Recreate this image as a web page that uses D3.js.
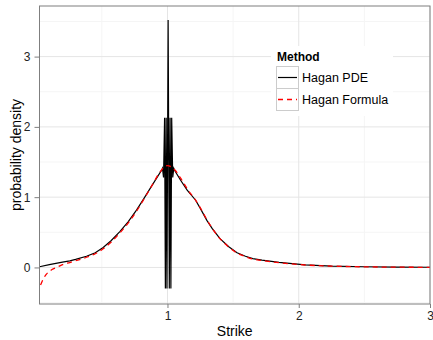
<!DOCTYPE html>
<html>
<head>
<meta charset="utf-8">
<script src="https://cdn.jsdelivr.net/npm/d3@7"></script>
<style>
  body { margin: 0; background: #fff; }
  svg { font-family: "Liberation Sans", Arial, sans-serif; }
</style>
</head>
<body>
<div id="chart"></div>
<script>
// NOTE: values
const pdeStrike = [0.025, 0.1, 0.2, 0.256, 0.3, 0.383, 0.45, 0.51, 0.57, 0.637, 0.7, 0.764, 0.82, 0.88, 0.947,
  0.955, 0.962, 0.970, 0.978, 0.984, 0.990, 0.996, 1.005, 1.014, 1.020, 1.026, 1.032, 1.040, 1.048, 1.055,
  1.1, 1.15, 1.213, 1.25, 1.3, 1.34, 1.4, 1.467, 1.53, 1.594, 1.65, 1.72, 1.85, 2.05, 2.25, 2.5, 2.75, 3.0];
const pdeDensity = [0.01, 0.04, 0.075, 0.094, 0.115, 0.16, 0.21, 0.285, 0.38, 0.51, 0.65, 0.816, 0.98, 1.16, 1.36,
  1.38, 1.41, 1.28, 2.13, -0.30, 2.13, -0.30, 3.52, -0.30, 2.13, -0.30, 2.13, 1.28, 1.41, 1.38,
  1.24, 1.10, 0.96, 0.84, 0.67, 0.555, 0.41, 0.294, 0.21, 0.16, 0.125, 0.104, 0.071, 0.037, 0.02, 0.01, 0.005, 0.003];
const formulaStrike = [0.033, 0.055, 0.078, 0.12, 0.155, 0.2, 0.256, 0.3, 0.383, 0.45, 0.51, 0.57, 0.637, 0.7, 0.764,
  0.82, 0.88, 0.94, 0.97, 1.0, 1.03, 1.06, 1.1, 1.15, 1.213, 1.25, 1.3, 1.34, 1.4, 1.467, 1.53, 1.594, 1.65, 1.72,
  1.85, 2.05, 2.25, 2.5, 2.75, 3.0];
const formulaDensity = [-0.25, -0.16, -0.095, -0.03, 0.0, 0.04, 0.07, 0.095, 0.145, 0.195, 0.265, 0.36, 0.49, 0.63, 0.8,
  0.97, 1.16, 1.35, 1.42, 1.45, 1.43, 1.38, 1.27, 1.12, 0.96, 0.85, 0.68, 0.56, 0.41, 0.29, 0.205, 0.155, 0.12, 0.1,
  0.068, 0.035, 0.019, 0.009, 0.004, 0.002];
const xTicks = [1, 2, 3];
const xMinor = [0.5, 1.5, 2.5];
const yTicks = [0, 1, 2, 3];
const yMinor = [-0.5, 0.5, 1.5, 2.5, 3.5];
const methods = ['Hagan PDE', 'Hagan Formula'];

// NOTE: layout
const width = 433, height = 340;
const panel = { left: 39.5, right: 430, top: 6, bottom: 304 };

const x = d3.scaleLinear().domain([0.025, 3.0]).range([panel.left, panel.right]);
const y = d3.scaleLinear().domain([-0.52, 3.72]).range([panel.bottom, panel.top]);

const svg = d3.select('#chart').append('svg')
  .attr('width', width)
  .attr('height', height);

// panel background + grid
svg.append('rect')
  .attr('x', panel.left).attr('y', panel.top)
  .attr('width', panel.right - panel.left).attr('height', panel.bottom - panel.top)
  .attr('fill', '#fff');

const grid = svg.append('g');
grid.selectAll('.xminor').data(xMinor).join('line')
  .attr('x1', d => x(d)).attr('x2', d => x(d))
  .attr('y1', panel.top).attr('y2', panel.bottom)
  .attr('stroke', '#f5f5f5').attr('stroke-width', 1);
grid.selectAll('.yminor').data(yMinor).join('line')
  .attr('y1', d => y(d)).attr('y2', d => y(d))
  .attr('x1', panel.left).attr('x2', panel.right)
  .attr('stroke', '#f5f5f5').attr('stroke-width', 1);
grid.selectAll('.xmajor').data(xTicks).join('line')
  .attr('x1', d => x(d)).attr('x2', d => x(d))
  .attr('y1', panel.top).attr('y2', panel.bottom)
  .attr('stroke', '#e5e5e5').attr('stroke-width', 1);
grid.selectAll('.ymajor').data(yTicks).join('line')
  .attr('y1', d => y(d)).attr('y2', d => y(d))
  .attr('x1', panel.left).attr('x2', panel.right)
  .attr('stroke', '#e5e5e5').attr('stroke-width', 1);

// curves
const line = d3.line().x(d => x(d[0])).y(d => y(d[1]));
const pde = pdeStrike.map((s, i) => [s, pdeDensity[i]]);
const formula = formulaStrike.map((s, i) => [s, formulaDensity[i]]);

svg.append('path')
  .datum(pde)
  .attr('d', line)
  .attr('fill', 'none')
  .attr('stroke', '#000')
  .attr('stroke-width', 1.2)
  .attr('stroke-linejoin', 'miter');

svg.append('path')
  .datum(formula)
  .attr('d', line.curve(d3.curveMonotoneX))
  .attr('fill', 'none')
  .attr('stroke', '#ff0000')
  .attr('stroke-width', 1.3)
  .attr('stroke-dasharray', '5,4');

// panel border
svg.append('rect')
  .attr('x', panel.left).attr('y', panel.top)
  .attr('width', panel.right - panel.left).attr('height', panel.bottom - panel.top)
  .attr('fill', 'none').attr('stroke', '#7f7f7f').attr('stroke-width', 1);

// axes
const xAxis = svg.append('g')
  .attr('transform', `translate(0,${panel.bottom})`)
  .call(d3.axisBottom(x).tickValues(xTicks).tickSize(4).tickPadding(3).tickFormat(d3.format('d')));
xAxis.select('.domain').remove();
xAxis.selectAll('line').attr('stroke', '#7f7f7f');
xAxis.selectAll('text').attr('font-size', 12).attr('fill', '#222')
  .attr('font-family', '"Liberation Sans", Arial, sans-serif');

const yAxis = svg.append('g')
  .attr('transform', `translate(${panel.left},0)`)
  .call(d3.axisLeft(y).tickValues(yTicks).tickSize(5).tickPadding(4).tickFormat(d3.format('d')));
yAxis.select('.domain').remove();
yAxis.selectAll('line').attr('stroke', '#7f7f7f');
yAxis.selectAll('text').attr('font-size', 12).attr('fill', '#222')
  .attr('font-family', '"Liberation Sans", Arial, sans-serif');

svg.append('text')
  .attr('x', (panel.left + panel.right) / 2)
  .attr('y', 336)
  .attr('text-anchor', 'middle')
  .attr('font-size', 14)
  .text('Strike');

svg.append('text')
  .attr('transform', `translate(21,${(panel.top + panel.bottom) / 2}) rotate(-90)`)
  .attr('text-anchor', 'middle')
  .attr('font-size', 14)
  .text('probability density');

// legend
const legend = svg.append('g');
legend.append('rect')
  .attr('x', 271).attr('y', 46).attr('width', 122).attr('height', 70)
  .attr('fill', '#fff');
legend.append('text')
  .attr('x', 277).attr('y', 61)
  .attr('font-size', 12).attr('font-weight', 'bold')
  .text('Method');

const keys = legend.selectAll('.key').data(methods).join('g')
  .attr('transform', (d, i) => `translate(276,${66 + i * 22})`);
keys.append('rect')
  .attr('x', 0.5).attr('y', 0.5).attr('width', 22).attr('height', 22)
  .attr('fill', '#fff').attr('stroke', '#cccccc').attr('stroke-width', 1);
keys.append('line')
  .attr('x1', 2).attr('x2', 21).attr('y1', 11.5).attr('y2', 11.5)
  .attr('stroke', (d, i) => i === 0 ? '#000' : '#ff0000')
  .attr('stroke-width', (d, i) => i === 0 ? 1.2 : 1.3)
  .attr('stroke-dasharray', (d, i) => i === 0 ? null : '5,4');
keys.append('text')
  .attr('x', 26).attr('y', 11.5)
  .attr('dy', '0.35em')
  .attr('font-size', 12.5)
  .text(d => d);
</script>
</body>
</html>
